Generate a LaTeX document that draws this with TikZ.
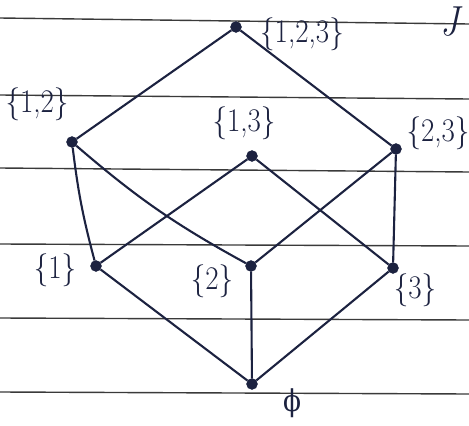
\documentclass[tikz,border=0pt]{standalone}
\usepackage{fontspec}
\newfontfamily\gkfont{DejaVu Serif}
\usepackage{tikz}
\definecolor{ink}{HTML}{1C2240}
\definecolor{rule}{HTML}{3A3A3A}
\begin{document}
\begin{tikzpicture}[x=1pt,y=-1pt,
  vtx/.style={circle,fill=ink,draw=ink,inner sep=0pt,minimum size=11pt},
  lbl/.style={text=ink,font=\fontsize{33}{36}\selectfont,inner sep=0pt,xscale=0.88},
  edge/.style={draw=ink,line width=2.1pt},
  ruling/.style={draw=rule,line width=1.4pt}]
\useasboundingbox (0,0) rectangle (469,426);
% notebook rulings
\draw[ruling] (0,18) -- (469,24);
\draw[ruling] (0,95) -- (469,99);
\draw[ruling] (0,168) -- (469,172);
\draw[ruling] (0,244) -- (469,246);
\draw[ruling] (0,318) -- (469,320);
\draw[ruling] (0,392) -- (469,394);
% vertices
\node[vtx] (T) at (236,27) {};
\node[vtx] (A) at (72,142) {};
\node[vtx] (B) at (252,156) {};
\node[vtx] (C) at (396,149) {};
\node[vtx] (D) at (96,266) {};
\node[vtx] (E) at (251,266) {};
\node[vtx] (F) at (393,268) {};
\node[vtx] (Z) at (252,384) {};
% labels
\node[lbl] (lT) at (302,34) {\{1,2,3\}};
\node[lbl] (lA) at (37,104) {\{1,2\}};
\node[lbl] (lB) at (244,123) {\{1,3\}};
\node[lbl] (lC) at (438,133) {\{2,3\}};
\node[lbl] (lD) at (55,270) {\{1\}};
\node[lbl] (lE) at (212,281) {\{2\}};
\node[lbl] (lF) at (415,290) {\{3\}};
\node[lbl,font=\gkfont\fontsize{30}{32}\selectfont] (lZ) at (292,403) {ϕ};
\node[lbl,font=\itshape\fontsize{42}{44}\selectfont] (lJ) at (450,22) {J};
% edges
\draw[edge] (T) -- (A);
\draw[edge] (T) -- (C);
\draw[edge] (A) to[bend right=4] (D);
\draw[edge] (A) to[bend right=6] (E);
\draw[edge] (B) -- (D);
\draw[edge] (B) -- (F);
\draw[edge] (C) -- (E);
\draw[edge] (C) -- (F);
\draw[edge] (D) -- (Z);
\draw[edge] (E) -- (Z);
\draw[edge] (F) -- (Z);
\end{tikzpicture}
\end{document}
